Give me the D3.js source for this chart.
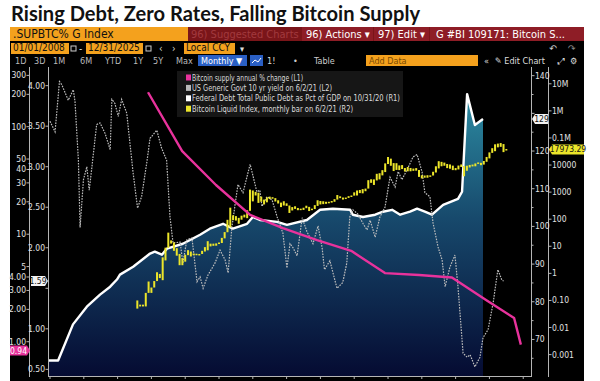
<!DOCTYPE html>
<html>
<head>
<meta charset="utf-8">
<script src="https://cdn.jsdelivr.net/npm/d3@7"></script>
<style>
  body { margin: 0; background: #fff; }
  svg { display: block; font-family: "Liberation Sans Narrow", "DejaVu Sans Condensed", "Liberation Sans", sans-serif; }
</style>
</head>
<body>
<svg width="600" height="381"></svg>
<script>
// ---- data ----
const titleText = "Rising Debt, Zero Rates, Falling Bitcoin Supply";

// L1: Bitcoin supply annual % change (log)
const supplyYears = [2010.9, 2011.91, 2012.91, 2013.92, 2014.89, 2015.9, 2016.91, 2017.91, 2018.92, 2019.89, 2020.9, 2021.73, 2021.93];
const supplyChange = [209, 59.3, 28.7, 15.1, 11.4, 8.8, 7.0, 4.35, 4.17, 3.96, 2.44, 1.66, 0.94];
const l1Ticks = [300, 200, 100, 50, 40, 30, 20, 10, 5, 4, 3, 2, 1];
const l1Labels = ["300", "200", "100", "50", "40", "30", "20", "10", "5", "4.00", "3.00", "2.00", "1.00"];

// L2: US Generic Govt 10 yr yield
const yieldYears = [2008.00, 2008.15, 2008.28, 2008.35, 2008.54, 2008.69, 2008.74, 2008.84, 2008.89, 2008.99,
  2009.09, 2009.16, 2009.23, 2009.38, 2009.48, 2009.63, 2009.78, 2009.83, 2009.92, 2010.02,
  2010.12, 2010.27, 2010.46, 2010.59, 2010.71, 2010.86, 2010.96, 2011.16, 2011.30, 2011.45,
  2011.55, 2011.64, 2011.85, 2011.93, 2012.05, 2012.20, 2012.35, 2012.44, 2012.53, 2012.67,
  2012.88, 2013.03, 2013.18, 2013.27, 2013.38, 2013.56, 2013.71, 2013.92, 2013.98, 2014.12,
  2014.21, 2014.27, 2014.42, 2014.57, 2014.72, 2014.89, 2015.01, 2015.10, 2015.19, 2015.31,
  2015.46, 2015.60, 2015.78, 2015.93, 2016.05, 2016.12, 2016.28, 2016.49, 2016.66, 2016.78,
  2016.87, 2016.96, 2017.10, 2017.26, 2017.38, 2017.47, 2017.62, 2017.76, 2017.91, 2018.06,
  2018.21, 2018.30, 2018.41, 2018.56, 2018.74, 2018.86, 2019.01, 2019.09, 2019.24, 2019.33,
  2019.48, 2019.60, 2019.69, 2019.83, 2019.98, 2020.07, 2020.22, 2020.34, 2020.43, 2020.57,
  2020.72, 2020.81, 2020.96, 2021.11, 2021.25, 2021.37, 2021.42];
const yieldValues = [3.56, 3.43, 4.05, 4.01, 3.82, 3.95, 3.80, 3.08, 2.25, 2.84,
  3.00, 2.71, 2.96, 3.52, 3.54, 3.41, 3.21, 3.83, 3.78, 3.62,
  3.83, 3.66, 2.92, 2.49, 2.63, 3.04, 3.35, 3.45, 3.23, 3.08,
  2.38, 2.06, 2.07, 1.81, 2.10, 2.12, 1.58, 1.64, 1.50, 1.66,
  1.81, 1.97, 1.85, 1.69, 2.25, 2.78, 2.68, 3.03, 2.93, 2.69,
  2.71, 2.51, 2.63, 2.59, 2.38, 2.18, 1.75, 2.05, 2.00, 1.90,
  2.37, 2.20, 2.05, 2.27, 2.00, 1.73, 1.84, 1.50, 1.57, 1.81,
  2.38, 2.47, 2.42, 2.30, 2.22, 2.34, 2.13, 2.38, 2.50, 2.87,
  2.75, 2.94, 2.84, 2.96, 3.12, 3.15, 2.93, 2.68, 2.63, 2.31,
  2.01, 1.85, 1.52, 1.76, 1.91, 1.52, 0.70, 0.65, 0.68, 0.53,
  0.65, 0.89, 0.99, 1.32, 1.73, 1.60, 1.59];
const l2Ticks = [4, 3.5, 3, 2.5, 2, 1.5, 1, 0.5];

// R1: Federal debt as % of GDP
const debtYears = [2007.94, 2008.24, 2008.68, 2009.09, 2009.48, 2009.78, 2009.98, 2010.07, 2010.46, 2010.96,
  2011.10, 2011.31, 2011.46, 2011.93, 2012.44, 2012.73, 2013.12, 2013.41, 2013.83, 2014.00,
  2014.21, 2014.72, 2015.01, 2015.60, 2015.99, 2016.37, 2016.88, 2016.96, 2017.26, 2017.62,
  2017.85, 2018.12, 2018.36, 2018.65, 2018.86, 2019.09, 2019.30, 2019.63, 2020.07, 2020.19,
  2020.34, 2020.57, 2020.81];
const debtValues = [64.4, 64.4, 74.0, 78.7, 81.9, 84.0, 85.9, 87.2, 89.3, 92.8,
  93.3, 92.5, 94.1, 95.4, 97.8, 99.4, 100.7, 99.4, 100.7, 102.5,
  101.7, 101.2, 100.4, 101.7, 104.4, 104.7, 104.4, 103.1, 102.5, 103.1,
  103.9, 104.4, 103.1, 103.9, 104.7, 103.9, 103.1, 105.7, 107.3, 109.2,
  135.1, 126.9, 128.5];
const r1Ticks = [140, 130, 120, 110, 100, 90, 80, 70];

// R2: Bitcoin Liquid Index, monthly bars from Jul 2010
const btcFirstMonth = 2010 + 6 / 12;
const btcClose = [0.07, 0.06, 0.06, 0.19, 0.21, 0.30,
  0.52, 0.86, 0.78, 3.5, 8.7, 16.1, 13.4, 8.2, 5.1, 3.25, 2.97, 4.72,
  5.5, 4.9, 4.9, 5.0, 5.2, 6.7, 9.3, 10.2, 12.4, 11.2, 12.6, 13.5,
  20.4, 33.4, 93, 139, 129, 97, 106, 135, 133, 204, 1130, 754,
  830, 570, 450, 450, 630, 640, 590, 480, 390, 340, 380, 320,
  220, 255, 245, 237, 230, 264, 285, 230, 237, 315, 378, 430,
  368, 437, 416, 448, 531, 673, 624, 575, 609, 700, 742, 963,
  970, 1190, 1080, 1350, 2300, 2480, 2875, 4700, 4340, 6470, 10230, 13860,
  10220, 10400, 6970, 9240, 7490, 6400, 7730, 7030, 6630, 6320, 4020, 3740,
  3460, 3850, 4100, 5350, 8570, 10800, 10080, 9630, 8290, 9200, 7570, 7200,
  9350, 8600, 6440, 8660, 9460, 9140, 11350, 11680, 10780, 13800, 19700, 29000,
  33100, 45200, 58900, 57700, 37300, 37500];
const btcHigh = [0.10, 0.07, 0.07, 0.19, 0.50, 0.30,
  0.52, 1.10, 0.95, 3.90, 8.90, 31.9, 16.5, 13.9, 8.5, 5.2, 3.6, 4.9,
  7.2, 6.4, 5.4, 5.3, 5.2, 6.8, 9.3, 15.4, 12.5, 12.5, 12.8, 13.8,
  20.4, 33.4, 95, 266, 139, 130, 112, 135, 147, 214, 1240, 1150,
  1020, 950, 680, 530, 640, 680, 650, 600, 500, 410, 460, 385,
  320, 280, 300, 260, 245, 265, 315, 285, 245, 330, 500, 470,
  460, 440, 440, 470, 550, 780, 700, 630, 630, 710, 750, 980,
  1150, 1200, 1290, 1350, 2760, 2980, 2950, 4740, 4980, 6470, 11500, 19800,
  17200, 11800, 11700, 9700, 9950, 7750, 8450, 7800, 7400, 7700, 6550, 4200,
  4100, 4200, 4150, 5640, 9000, 13880, 13100, 12300, 10950, 10500, 9500, 7750,
  9580, 10500, 9200, 9460, 10080, 10400, 11450, 12470, 12070, 14100, 19860, 29300,
  41900, 58300, 61800, 64800, 59500, 39000];
const btcLow = [0.05, 0.06, 0.06, 0.06, 0.19, 0.19,
  0.30, 0.52, 0.67, 0.56, 3.0, 8.7, 12.6, 6.8, 4.5, 2.0, 2.0, 2.7,
  4.7, 4.2, 4.7, 4.7, 4.9, 5.2, 6.4, 7.1, 9.9, 10.4, 10.5, 12.4,
  13.2, 19.6, 33, 50, 92, 89, 68, 96, 116, 109, 204, 455,
  750, 400, 440, 350, 420, 550, 570, 450, 380, 280, 320, 310,
  170, 210, 240, 215, 230, 220, 255, 200, 225, 237, 310, 350,
  360, 370, 395, 410, 440, 530, 600, 530, 590, 610, 690, 740,
  750, 920, 900, 1080, 1350, 2200, 1840, 2700, 2950, 4150, 5500, 10900,
  9400, 6000, 6600, 6500, 7100, 5750, 5860, 5880, 6100, 6200, 3650, 3200,
  3400, 3400, 3700, 4100, 5300, 7500, 9000, 9400, 7700, 7300, 6500, 6440,
  6870, 8450, 3850, 6150, 8120, 8900, 8980, 10990, 9880, 10400, 13200, 17600,
  28100, 32400, 45000, 47000, 30000, 35800];
const r2Ticks = [1e7, 1e6, 1e5, 1e4, 1000, 100, 10, 1, 0.1, 0.01, 0.001];
const r2Labels = ["10M", "1M", "0.1M", "10000", "1000", "100", "10", "1", "0.10", "0.01", "0.001"];

const lastLabels = { l1: "0.94", l2: "1.59", r1: "129", r2: "17973.29" };

const legendItems = [
  { text: "Bitcoin supply annual % change (L1)", color: "#e8329c", w: 111 },
  { text: "US Generic Govt 10 yr yield on 6/2/21 (L2)", color: "#b8b8b8", w: 140 },
  { text: "Federal Debt Total Public Debt as Pct of GDP on 10/31/20 (R1)", color: "#ffffff", w: 208 },
  { text: "Bitcoin Liquid Index, monthly bar on 6/2/21 (R2)", color: "#ece52a", w: 161 }
];

// ---- layout ----
const plot = { left: 48, right: 531, top: 67, bottom: 376 };
const svg = d3.select("svg");

const x = d3.scaleLinear().domain([2008, 2022.23]).range([50, plot.right]);
const yL1 = d3.scaleLog().domain([0.48, 359]).range([plot.bottom, plot.top]);
const yL2 = d3.scaleLinear().domain([0.418, 4.23]).range([plot.bottom, plot.top]);
const yR1 = d3.scaleLinear().domain([60.3, 142.3]).range([plot.bottom, plot.top]);
const yR2 = d3.scaleLog().domain([Math.pow(10, -3.79), Math.pow(10, 7.62)]).range([plot.bottom, plot.top]);

// title
svg.append("text")
  .attr("x", 11).attr("y", 21)
  .attr("font-family", "Lato, 'Open Sans', sans-serif")
  .attr("font-weight", 700)
  .attr("font-size", 21)
  .attr("textLength", 409).attr("lengthAdjust", "spacingAndGlyphs")
  .attr("fill", "#111")
  .text(titleText);

// terminal panel
svg.append("rect").attr("x", 10).attr("y", 27).attr("width", 574).attr("height", 354).attr("fill", "#000");

// --- header row 1
const r1y = 27, r1h = 14;
svg.append("rect").attr("x", 10).attr("y", r1y).attr("width", 178).attr("height", r1h).attr("fill", "#f4a11d");
svg.append("text").attr("x", 13).attr("y", r1y + 11).attr("font-size", 12).attr("fill", "#111").text(".SUPBTC% G Index");
svg.append("rect").attr("x", 188).attr("y", r1y).attr("width", 396).attr("height", r1h).attr("fill", "#7a1519");
svg.append("text").attr("x", 191).attr("y", r1y + 11).attr("font-size", 11).attr("fill", "#a23a3e").text("96) Suggested Charts");
[[302, 71], [374, 55], [430, 154]].forEach(([bx, bw]) => {
  svg.append("rect").attr("x", bx).attr("y", r1y).attr("width", bw).attr("height", r1h).attr("fill", "#8e1d26");
});
svg.append("text").attr("x", 306).attr("y", r1y + 11).attr("font-size", 11).attr("fill", "#fff").text("96) Actions ▾");
svg.append("text").attr("x", 378).attr("y", r1y + 11).attr("font-size", 11).attr("fill", "#fff").text("97) Edit ▾");
svg.append("text").attr("x", 436).attr("y", r1y + 11).attr("font-size", 11).attr("fill", "#fff").text("G #BI 109171: Bitcoin S...");

// --- header row 2
const r2y = 42;
const orangeBox = (bx, bw, label, by, bh) => {
  svg.append("rect").attr("x", bx).attr("y", by).attr("width", bw).attr("height", bh).attr("fill", "#f4a11d");
  svg.append("text").attr("x", bx + 2).attr("y", by + bh - 3).attr("font-size", 10).attr("fill", "#111").text(label);
};
orangeBox(11, 58, "01/01/2008", r2y + 1, 11);
orangeBox(86, 57, "12/31/2025", r2y + 1, 11);
orangeBox(184, 51, "Local CCY", r2y + 1, 11);
[71, 146].forEach(cx => svg.append("rect").attr("x", cx).attr("y", r2y + 4).attr("width", 5).attr("height", 5)
  .attr("fill", "none").attr("stroke", "#ccc").attr("stroke-width", 1));
const whiteText = (tx, ty, s, size, col) => svg.append("text").attr("x", tx).attr("y", ty)
  .attr("font-size", size || 10).attr("fill", col || "#ddd").text(s);
whiteText(79, r2y + 10, "-");
whiteText(159, r2y + 10, "‹");
whiteText(172, r2y + 10, "›");
whiteText(240, r2y + 10, "▾", 9);
whiteText(549, r2y + 10, "↶", 10, "#ccc");
whiteText(568, r2y + 10, "↷", 10, "#888");

// --- header row 3
const r3y = 54;
[["1D", 15], ["3D", 34], ["1M", 53], ["6M", 80], ["YTD", 105], ["1Y", 133], ["5Y", 153], ["Max", 176]].forEach(([s, tx]) => {
  whiteText(tx, r3y + 9.5, s, 9, "#bbb");
});
svg.append("rect").attr("x", 198).attr("y", r3y + 1).attr("width", 49).attr("height", 11).attr("fill", "#2a5fc4");
whiteText(201, r3y + 9.5, "Monthly ▼", 9, "#fff");
svg.append("rect").attr("x", 250).attr("y", r3y + 1).attr("width", 13).attr("height", 11).attr("fill", "#2a5fc4");
svg.append("path").attr("d", `M252,${r3y + 9} l3,-3 l3,2 l3,-4`).attr("fill", "none").attr("stroke", "#fff").attr("stroke-width", 1);
whiteText(267, r3y + 9.5, "1!", 9, "#ddd");
whiteText(293, r3y + 9.5, "•", 9, "#ccc");
whiteText(314, r3y + 9.5, "Table", 9, "#ccc");
svg.append("rect").attr("x", 366).attr("y", r3y + 1).attr("width", 112).attr("height", 11).attr("fill", "#f4a11d");
whiteText(369, r3y + 9.5, "Add Data", 9, "#7a4a00");
whiteText(484, r3y + 9.5, "«", 9, "#ddd");
whiteText(495, r3y + 9.5, "✎ Edit Chart", 9, "#ddd");
whiteText(558, r3y + 9.5, "⤢", 9, "#ddd");
whiteText(570, r3y + 9.5, "⚙", 9, "#ddd");

// ---- chart ----
const defs = svg.append("defs");
const grad = defs.append("linearGradient").attr("id", "debtFill")
  .attr("gradientUnits", "userSpaceOnUse").attr("x1", 0).attr("x2", 0).attr("y1", 90).attr("y2", plot.bottom);
grad.append("stop").attr("offset", 0).attr("stop-color", "#2d8ea4");
grad.append("stop").attr("offset", 0.45).attr("stop-color", "#17496c");
grad.append("stop").attr("offset", 1).attr("stop-color", "#050b32");
defs.append("clipPath").attr("id", "plotClip").append("rect")
  .attr("x", plot.left).attr("y", plot.top).attr("width", plot.right - plot.left).attr("height", plot.bottom - plot.top);

const g = svg.append("g").attr("clip-path", "url(#plotClip)");

const debt = debtYears.map((t, i) => ({ t, v: debtValues[i] }));
g.append("path").datum(debt)
  .attr("fill", "url(#debtFill)")
  .attr("d", d3.area().x(d => x(d.t)).y0(plot.bottom).y1(d => yR1(d.v)));
g.append("path").datum(debt)
  .attr("fill", "none").attr("stroke", "#fff").attr("stroke-width", 2.4).attr("stroke-linejoin", "round")
  .attr("d", d3.line().x(d => x(d.t)).y(d => yR1(d.v)));

const yields = yieldYears.map((t, i) => ({ t, v: yieldValues[i] }));
g.append("path").datum(yields)
  .attr("fill", "none").attr("stroke", "#bdbdbd").attr("stroke-width", 1.2).attr("stroke-dasharray", "1.6,1.2")
  .attr("d", d3.line().x(d => x(d.t)).y(d => yL2(d.v)));

const btc = btcClose.map((c, i) => ({ t: btcFirstMonth + (i + 1) / 12, c, h: btcHigh[i], l: btcLow[i] }));
g.selectAll(".btc").data(btc).join("rect").attr("class", "btc")
  .attr("x", d => x(d.t) - 1).attr("width", 2)
  .attr("y", d => yR2(d.h)).attr("height", d => Math.max(1.5, yR2(d.l) - yR2(d.h)))
  .attr("fill", "#ece52a");

const supply = supplyYears.map((t, i) => ({ t, v: supplyChange[i] }));
g.append("path").datum(supply)
  .attr("fill", "none").attr("stroke", "#e8329c").attr("stroke-width", 2.4).attr("stroke-linejoin", "round")
  .attr("d", d3.line().x(d => x(d.t)).y(d => yL1(d.v)));

// ---- axes ----
const axisCol = "#b5b5b5", labCol = "#e2e2e2", fs = 8.5;
const vline = (ax) => svg.append("line").attr("x1", ax).attr("x2", ax).attr("y1", plot.top).attr("y2", plot.bottom + 1)
  .attr("stroke", axisCol).attr("stroke-width", 1);
vline(29.5); vline(48.5); vline(531.5); vline(548.5);
svg.append("line").attr("x1", plot.left).attr("x2", plot.right + 1).attr("y1", plot.bottom + 0.5).attr("y2", plot.bottom + 0.5)
  .attr("stroke", axisCol);
svg.selectAll(".xt").data(d3.range(2008, 2023)).join("line").attr("class", "xt")
  .attr("x1", d => x(d)).attr("x2", d => x(d)).attr("y1", plot.bottom).attr("y2", plot.bottom + 3).attr("stroke", axisCol);

const lastYield = yieldValues[yieldValues.length - 1];
const lastDebt = debtValues[debtValues.length - 1];

// L1
l1Ticks.forEach((v, i) => {
  const yy = yL1(v);
  svg.append("line").attr("x1", 26.5).attr("x2", 29.5).attr("y1", yy).attr("y2", yy).attr("stroke", axisCol);
  svg.append("text").attr("x", 26).attr("y", yy + 3).attr("text-anchor", "end").attr("font-size", fs).attr("fill", labCol).text(l1Labels[i]);
});
// L2 (a tick label hidden under the last-value tag is left out)
l2Ticks.forEach(v => {
  const yy = yL2(v);
  svg.append("line").attr("x1", 45.5).attr("x2", 48.5).attr("y1", yy).attr("y2", yy).attr("stroke", axisCol);
  if (Math.abs(yy - yL2(lastYield)) > 8)
    svg.append("text").attr("x", 45).attr("y", yy + 3).attr("text-anchor", "end").attr("font-size", fs).attr("fill", labCol).text(d3.format(".2f")(v));
});
// R1
d3.range(65, 145, 5).forEach(v => {
  const yy = yR1(v), major = v % 10 === 0;
  svg.append("line").attr("x1", 531.5).attr("x2", major ? 534.5 : 533.5).attr("y1", yy).attr("y2", yy).attr("stroke", axisCol);
});
r1Ticks.forEach(v => {
  if (Math.abs(yR1(v) - yR1(lastDebt)) > 8)
    svg.append("text").attr("x", 535).attr("y", yR1(v) + 3).attr("font-size", fs).attr("fill", labCol).text(v);
});
// R2
r2Ticks.forEach((v, i) => {
  const yy = yR2(v);
  svg.append("line").attr("x1", 548.5).attr("x2", 551.5).attr("y1", yy).attr("y2", yy).attr("stroke", axisCol);
  svg.append("text").attr("x", 552).attr("y", yy + 3).attr("font-size", fs).attr("fill", labCol).text(r2Labels[i]);
});

// last-value tags
const tag = (tx, ty, w, txt, bg, fg, pointLeft) => {
  const h = 10;
  const p = pointLeft
    ? `M${tx},${ty} l3,-${h / 2} h${w} v${h} h-${w} z`
    : `M${tx},${ty - h / 2} h${w} l3,${h / 2} l-3,${h / 2} h-${w} z`;
  svg.append("path").attr("d", p).attr("fill", bg);
  svg.append("text").attr("x", pointLeft ? tx + 3 + w / 2 : tx + w / 2).attr("y", ty + 3)
    .attr("text-anchor", "middle").attr("font-size", 8.5).attr("fill", fg).text(txt);
};
tag(10, yL1(supplyChange[supplyChange.length - 1]) + 6, 17, lastLabels.l1, "#e8329c", "#fff", false);
tag(31, yL2(lastYield), 14, lastLabels.l2, "#f2f2f2", "#111", false);
tag(532, yR1(lastDebt), 13, lastLabels.r1, "#f2f2f2", "#111", true);
tag(549, yR2(btcClose[btcClose.length - 1]), 32, lastLabels.r2, "#ece52a", "#111", true);

// legend
const lg = svg.append("g");
lg.append("rect").attr("x", 177).attr("y", 71).attr("width", 226).attr("height", 46).attr("fill", "#161616");
legendItems.forEach((d, i) => {
  const ly = 77.5 + i * 10.4;
  lg.append("rect").attr("x", 186).attr("y", ly - 3).attr("width", 5).attr("height", 6).attr("fill", d.color);
  lg.append("text").attr("x", 192).attr("y", ly + 3).attr("font-size", 8.5).attr("fill", "#dcdcdc")
    .attr("textLength", d.w).attr("lengthAdjust", "spacingAndGlyphs").text(d.text);
});
</script>
</body>
</html>
